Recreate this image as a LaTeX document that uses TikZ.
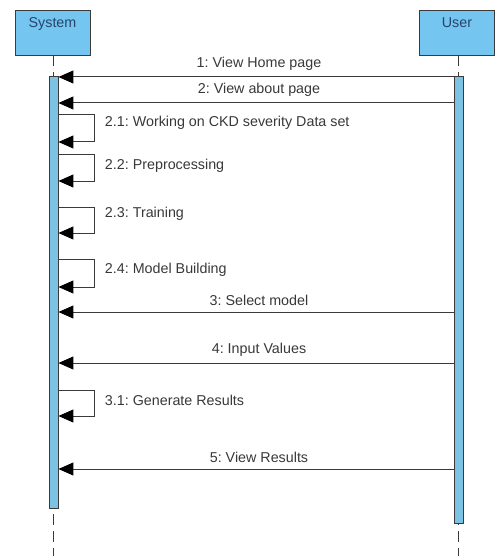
\documentclass[tikz,border=0pt]{standalone}
\usepackage{fontspec}
\setmainfont{Liberation Sans}
\usepackage{xcolor}
\usetikzlibrary{arrows.meta,calc,positioning}
\definecolor{sqactor}{HTML}{74C5F0}
\definecolor{sqbar}{HTML}{7CC3E3}
\definecolor{sqline}{HTML}{3A3A3A}
\definecolor{sqtext}{HTML}{383838}
\definecolor{sqname}{HTML}{27456B}
\tikzset{
  actor/.style={draw=sqline,fill=sqactor,line width=0.9pt,minimum width=75pt,
    minimum height=45pt,text height=10pt,text depth=20pt,
    font=\fontsize{14.3}{16}\selectfont,text=sqname},
  actbar/.style={draw=sqline,fill=sqbar,line width=0.9pt,minimum width=9pt,inner sep=0pt},
  lifeline/.style={draw=sqline,dash pattern=on 11pt off 6pt,line width=0.8pt},
  msg/.style={draw=sqline,line width=1pt,-{Triangle[length=15pt,width=13pt,color=black]}},
  msgtext/.style={font=\fontsize{14.3}{16}\selectfont,text=sqtext}
}
\frenchspacing

\begin{document}
\begin{tikzpicture}[x=1pt,y=-1pt]
  \useasboundingbox (0,0) rectangle (495,556);
  % lifeline heads
  \node[actor] (sys) at (52.5,32.5) {System};
  \node[actor] (usr) at (457,32.5) {User};
  \coordinate (sysend) at (53.5,556);
  \coordinate (usrend) at (458.5,556);
  \draw[lifeline] (sys.south -| sysend) -- (sysend);
  \draw[lifeline] (usr.south -| usrend) -- (usrend);
  % activation bars
  \node[actbar,minimum height=432pt] (sysbar) at (53.5,292) {};
  \node[actbar,minimum height=447pt] (usrbar) at (458.5,299.5) {};
  % messages user -> system
  \foreach \n/\y/\txt in {1/77/{1: View Home page},2/103/{2: View about page},
      3/312/{3: Select model},4/363/{4: Input Values},5/469/{5: View Results}}{
    \coordinate (u\n) at (usrbar.west |- 0,\y);
    \coordinate (s\n) at (sysbar.east |- 0,\y);
    \draw[msg] (u\n) -- node[msgtext,above=3pt,xshift=3pt] (m\n) {\txt} (s\n);
  }
  % self calls on the system
  \foreach \n/\y/\h/\ly/\txt in {21/115/27/123/{2.1: Working on CKD severity Data set},
      22/155/26/166/{2.2: Preprocessing},23/207/26/214/{2.3: Training},
      24/259/28/270/{2.4: Model Building},31/390/26/400/{3.1: Generate Results}}{
    \coordinate (a\n) at (sysbar.east |- 0,\y);
    \draw[msg] (a\n) -- ++(36,0) coordinate (r\n) |- ++(-36,\h);
    \node[msgtext,anchor=west] (l\n) at (r\n |- 0,\ly) [xshift=7pt] {\txt};
  }
\end{tikzpicture}
\end{document}
